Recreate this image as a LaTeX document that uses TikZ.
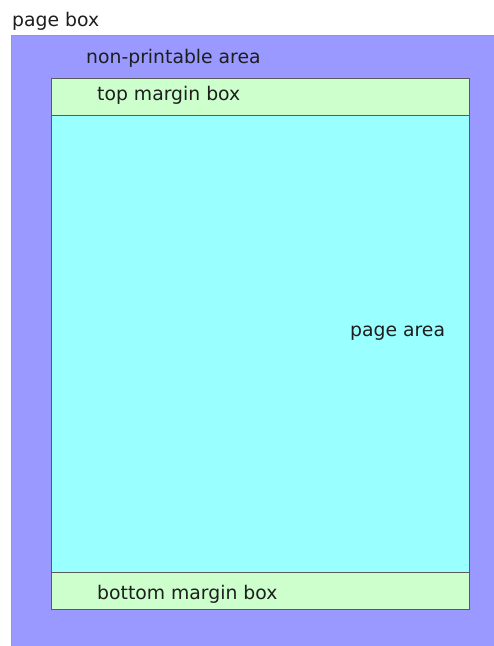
\documentclass[tikz,border=0pt]{standalone}
\usepackage{fontspec}
\setmainfont{DejaVu Sans}
\usepackage{tikz}
\usetikzlibrary{positioning}
\definecolor{pagebg}{RGB}{153,153,255}
\definecolor{areabg}{RGB}{153,255,255}
\definecolor{marginbg}{RGB}{204,255,204}
\definecolor{boxline}{RGB}{90,90,90}
\definecolor{labeltext}{RGB}{30,30,30}
\tikzset{
  pagebox/.style={draw=boxline!70, fill=pagebg, line width=0.8pt},
  pagearea/.style={draw=boxline, fill=areabg, line width=0.8pt},
  marginbox/.style={draw=boxline, fill=marginbg, line width=0.8pt},
  lbl/.style={anchor=base west, inner sep=0pt, text=labeltext,
              font=\fontsize{18.8}{20}\selectfont},
}
\begin{document}
\begin{tikzpicture}[x=1pt, y=-1pt]
  \useasboundingbox (0,0) rectangle (494,646);
  % Page box
  \fill[pagebg] (11,35) rectangle (494,646);
  \draw[boxline!60, line width=0.8pt] (11,646) -- (11,35) -- (494,35);
  \node[lbl] (pageboxlbl) at (12,26) {page box};
  \node[lbl] (nonprint) at (86,63) {non-printable area};
  % Page area
  \draw[pagearea] (51,78) rectangle (469,609);
  \node[lbl] (arealbl) at (350,336) {page area};
  % Margin boxes
  \draw[marginbox] (51,78) rectangle (469,115);
  \node[lbl] (toplbl) at (97,100) {top margin box};
  \draw[marginbox] (51,572) rectangle (469,609);
  \node[lbl] (bottomlbl) at (97,599) {bottom margin box};
\end{tikzpicture}
\end{document}
